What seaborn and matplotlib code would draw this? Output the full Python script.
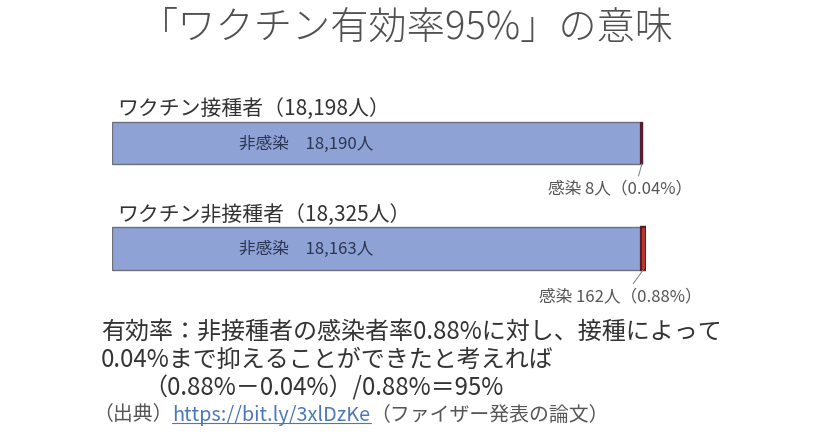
import matplotlib
matplotlib.use("Agg")
import matplotlib.pyplot as plt
import seaborn as sns

# データ（ファイザー発表の論文より）
groups = ["ワクチン接種者", "ワクチン非接種者"]
totals = [18198, 18325]
uninfected = [18190, 18163]
infected = [8, 162]
infected_rate = [0.04, 0.88]

W, H = 828, 438


def fx(px):
    return px / W


def fy(py):
    return 1 - py / H


sns.set_style("white")
plt.rcParams["font.family"] = ["Noto Sans CJK JP", "DejaVu Sans"]

fig = plt.figure(figsize=(W / 100, H / 100), dpi=100)
fig.patch.set_facecolor("white")

# 棒グラフの領域（接種者の棒が 112px〜642px になるよう調整）
left_px = 112
right_px = left_px + 530 * totals[1] / totals[0]
ax = fig.add_axes([fx(left_px), fy(301.25), (right_px - left_px) / W, 211 / H])

# 非感染（青）と、その右に積み上げた感染（赤）
sns.barplot(x=uninfected, y=groups, color="#8fa2d6", orient="h", width=0.403,
            edgecolor="#6c717c", linewidth=1.0, saturation=1, ax=ax)
sns.barplot(x=infected, y=groups, hue=groups, palette=["#6a2d4f", "#c33a2c"],
            orient="h", width=0.403, edgecolor="#5a1c28", linewidth=1.6,
            saturation=1, legend=False, left=uninfected, ax=ax)

ax.set_xlim(0, totals[1])
ax.set_ylim(1.5, -0.5)
ax.set_xlabel("")
ax.set_ylabel("")
ax.set_xticks([])
ax.set_yticks([])
sns.despine(ax=ax, left=True, bottom=True)

label_offsets = [(-22, -25), (-23, -27)]
relpos_x = [0.62, 0.56]
for i, g in enumerate(groups):
    # グループ名
    ax.annotate(f"{g}（{totals[i]:,}人）", xy=(0, i - 0.32),
                xytext=(3.5, 0), textcoords="offset points",
                fontsize=15, color="#333333", ha="left", va="center")
    # 非感染の人数（棒の中）
    ax.text(totals[0] * 0.366, i + 0.01, f"非感染　{uninfected[i]:,}人",
            fontsize=12, color="#2c3552", ha="center", va="center")
    # 感染の人数（引き出し線つき）
    dx, dy = label_offsets[i]
    ax.annotate(f"感染 {infected[i]}人（{infected_rate[i]:.2f}%）",
                xy=(totals[i] - infected[i] / 2, i + 0.2),
                xytext=(dx * 0.72, dy * 0.72), textcoords="offset points",
                fontsize=12, color="#555555", ha="center", va="center",
                arrowprops=dict(arrowstyle="-", color="#8a8a8a", lw=0.8,
                                relpos=(relpos_x[i], 1.0), shrinkA=1, shrinkB=0))

# タイトル
fig.text(fx(140), fy(28), "「ワクチン有効率95%」の意味", fontsize=27.5,
         color="#505050", ha="left", va="center", fontweight="light")

# 説明文
body_color = "#333333"
fig.text(fx(101), fy(332), "有効率：非接種者の感染者率0.88%に対し、接種によって",
         fontsize=17.3, color=body_color, ha="left", va="center")
fig.text(fx(101), fy(360), "0.04%まで抑えることができたと考えれば",
         fontsize=17.3, color=body_color, ha="left", va="center")
fig.text(fx(143), fy(388), "（0.88%－0.04%）/0.88%＝95%",
         fontsize=17.3, color=body_color, ha="left", va="center")

# 出典
src1 = fig.text(fx(93), fy(415), "（出典）", fontsize=14.3, color="#555555",
                ha="left", va="center")
fig.canvas.draw()
renderer = fig.canvas.get_renderer()
bb = src1.get_window_extent(renderer)
url = fig.text(bb.x1 / W, fy(415), "https://bit.ly/3xlDzKe", fontsize=14.3,
               color="#4a78b8", ha="left", va="center")
bb2 = url.get_window_extent(renderer)
fig.add_artist(plt.Line2D([bb2.x0 / W, bb2.x1 / W], [bb2.y0 / H + 0.006, bb2.y0 / H + 0.006],
                          color="#4a78b8", lw=0.8))
fig.text(bb2.x1 / W, fy(415), "（ファイザー発表の論文）", fontsize=14.3,
         color="#555555", ha="left", va="center")

fig.savefig("out.png", dpi=100, facecolor="white")
